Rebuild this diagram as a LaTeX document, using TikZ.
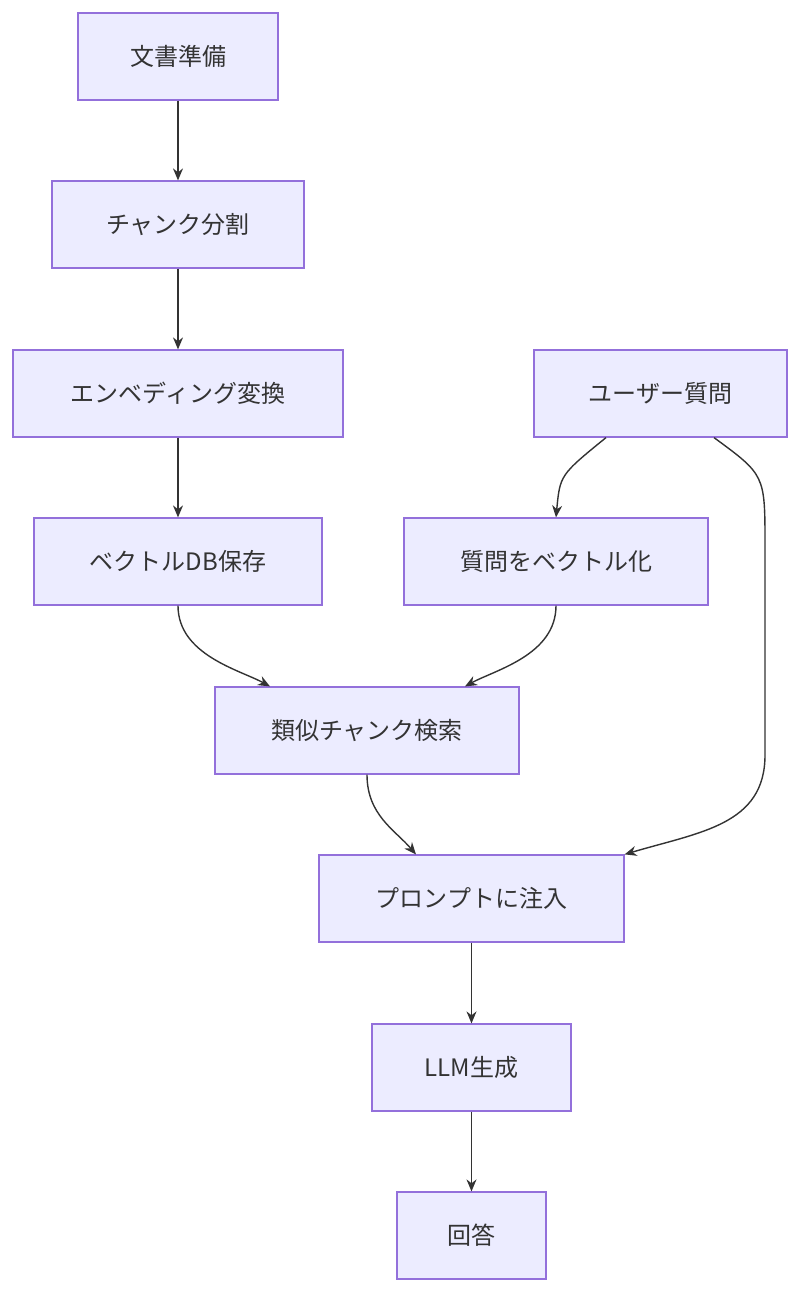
\documentclass[tikz,border=0pt]{standalone}
\usepackage{fontspec}
\setmainfont{Noto Sans CJK JP}
\usetikzlibrary{positioning,arrows.meta}
\definecolor{boxfill}{HTML}{ECECFF}
\definecolor{boxline}{HTML}{9370DB}
\definecolor{ink}{HTML}{333333}
\tikzset{
  stepbox/.style = {draw = boxline, fill = boxfill, line width = 1.2pt, minimum height = 87pt, text = ink, font = \fontsize{24}{28}\selectfont, inner sep = 0pt},
  flow/.style = {draw = ink, line width = 1.4pt, -{Stealth[length = 12pt, width = 10pt]}}
}
\begin{document}
\begin{tikzpicture}[x = 1pt, y = -1pt]
\useasboundingbox (0,0) rectangle (800,1293);
\node[stepbox, minimum width = 200pt] (doc) at (178,56.5) {文書準備};
\node[stepbox, minimum width = 252pt] (chunk) at (178,224.5) {チャンク分割};
\node[stepbox, minimum width = 330pt] (embed) at (178,393.5) {エンベディング変換};
\node[stepbox, minimum width = 253pt] (user) at (660.5,393.5) {ユーザー質問};
\node[stepbox, minimum width = 288pt] (vdb) at (178,561.5) {ベクトルDB保存};
\node[stepbox, minimum width = 304pt] (qvec) at (556,561.5) {質問をベクトル化};
\node[stepbox, minimum width = 304pt] (search) at (367,730.5) {類似チャンク検索};
\node[stepbox, minimum width = 305pt] (prompt) at (471.5,898.5) {プロンプトに注入};
\node[stepbox, minimum width = 199pt] (llm) at (471.5,1067.5) {LLM生成};
\node[stepbox, minimum width = 149pt] (answer) at (471.5,1235.5) {回答};
% straight links
\draw[flow] (doc) -- (chunk);
\draw[flow] (chunk) -- (embed);
\draw[flow] (embed) -- (vdb);
\draw[flow] (prompt) -- (llm);
\draw[flow] (llm) -- (answer);
% curved links
\draw[flow] ([xshift = -54.5pt]user.south) .. controls (560,475) .. (qvec.north);
\draw[flow] ([xshift = 53.5pt]user.south) .. controls (765,475) .. (765,545) -- (765,755) .. controls (765,825) and (700,832) .. ([yshift = 0pt]prompt.north east);
\draw[flow] (vdb.south) .. controls (178,655) and (240,670) .. ([xshift = -97pt]search.north);
\draw[flow] (qvec.south) .. controls (556,655) and (495,670) .. ([xshift = 98pt]search.north);
\draw[flow] (search.south) .. controls (367,815) and (395,830) .. ([xshift = -55.5pt]prompt.north);
\end{tikzpicture}
\end{document}
